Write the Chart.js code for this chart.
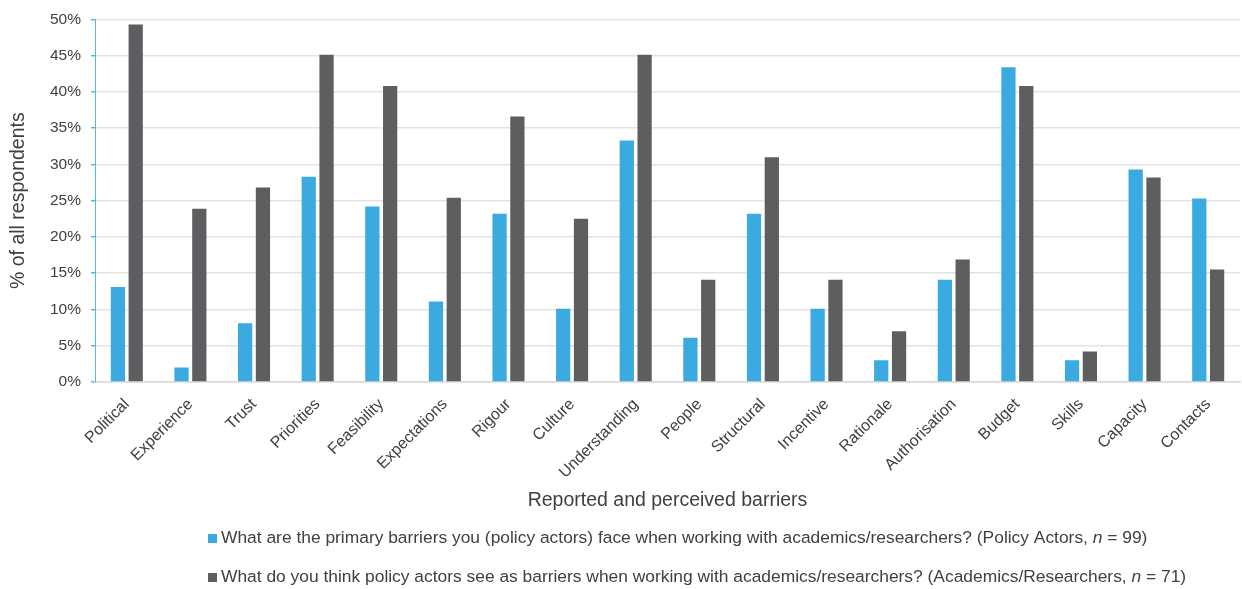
<!DOCTYPE html>
<html>
<head>
<meta charset="utf-8">
<script src="https://cdn.jsdelivr.net/npm/chart.js@4.4.1/dist/chart.umd.min.js"></script>
<style>
  html, body { margin: 0; padding: 0; background: #fff; }
  #wrap { width: 1242px; height: 589px; position: relative; }
</style>
</head>
<body>
<div id="wrap"><canvas id="chart"></canvas></div>
<script>
// barrier categories
const categories = ["Political", "Experience", "Trust", "Priorities", "Feasibility", "Expectations",
  "Rigour", "Culture", "Understanding", "People", "Structural", "Incentive", "Rationale",
  "Authorisation", "Budget", "Skills", "Capacity", "Contacts"];

// % policy actors (n = 99)
const policyActors = [13.1, 2.0, 8.1, 28.3, 24.2, 11.1, 23.2, 10.1, 33.3, 6.1, 23.2, 10.1, 3.0,
  14.1, 43.4, 3.0, 29.3, 25.3];

// % academics / researchers (n = 71)
const academics = [49.3, 23.9, 26.8, 45.1, 40.8, 25.4, 36.6, 22.5, 45.1, 14.1, 31.0, 14.1, 7.0,
  16.9, 40.8, 4.2, 28.2, 15.5];

const legendLabels = [
  ["What are the primary barriers you (policy actors) face when working with academics/researchers? (Policy Actors, ", "n", " = 99)"],
  ["What do you think policy actors see as barriers when working with academics/researchers? (Academics/Researchers, ", "n", " = 71)"]
];

const BLUE = "#3aaae0";
const DARK = "#5e5d60";
const TEXT = "#404040";
const FONT = "'Liberation Sans', Arial, sans-serif";

// legend under the axis title, drawn by hand so "n" can be italic
const bottomLegend = {
  id: "bottomLegend",
  afterDraw(chart) {
    const ctx = chart.ctx;
    const colors = [BLUE, DARK];
    const rows = [538, 577];
    ctx.save();
    ctx.textBaseline = "middle";
    legendLabels.forEach((parts, i) => {
      let x = 208;
      const y = rows[i];
      ctx.fillStyle = colors[i];
      ctx.fillRect(x, y - 4, 9, 9);
      x += 13;
      ctx.fillStyle = TEXT;
      parts.forEach((p, j) => {
        ctx.font = (j === 1 ? "italic " : "") + "17.4px " + FONT;
        ctx.fillText(p, x, y);
        x += ctx.measureText(p).width;
      });
    });
    ctx.restore();
  }
};

new Chart(document.getElementById("chart"), {
  type: "bar",
  data: {
    labels: categories,
    datasets: [
      { label: "Policy Actors", data: policyActors, backgroundColor: BLUE },
      { label: "Academics/Researchers", data: academics, backgroundColor: DARK }
    ]
  },
  options: {
    responsive: true,
    maintainAspectRatio: false,
    animation: false,
    layout: { padding: { top: 19, right: 2, bottom: 77, left: 0 } },
    datasets: { bar: { categoryPercentage: 0.56, barPercentage: 0.8 } },
    plugins: {
      legend: { display: false },
      tooltip: { enabled: false }
    },
    scales: {
      x: {
        grid: { display: false },
        border: { display: true, color: "#d9d9d9", width: 1.5 },
        ticks: {
          color: TEXT,
          font: { family: FONT, size: 16 },
          maxRotation: 45,
          minRotation: 45,
          autoSkip: false,
          padding: 5
        },
        title: {
          display: true,
          text: "Reported and perceived barriers",
          color: TEXT,
          font: { family: FONT, size: 19.5 },
          padding: { top: 0, bottom: 0 }
        },
        afterFit(scale) { scale.height = 130; }
      },
      y: {
        min: 0,
        max: 50,
        ticks: {
          stepSize: 5,
          color: TEXT,
          font: { family: FONT, size: 15.5 },
          padding: 10,
          callback: v => v + "%"
        },
        grid: { color: "#e3e3e3", lineWidth: 1.5, tickColor: "#5bb5e6", tickLength: 4 },
        border: { display: true, color: "#5bb5e6", width: 1 },
        title: {
          display: true,
          text: "% of all respondents",
          color: TEXT,
          font: { family: FONT, size: 19.5 },
          padding: { top: 7, bottom: 0 }
        },
        afterFit(scale) { scale.width = 95; }
      }
    }
  },
  plugins: [bottomLegend]
});
</script>
</body>
</html>
